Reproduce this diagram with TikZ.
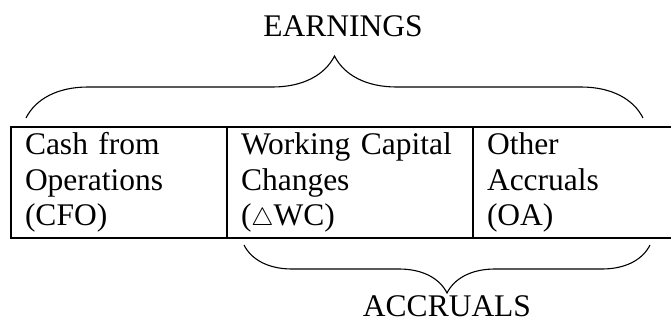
\documentclass[tikz,border=0pt]{standalone}
\usepackage{fontspec}
\setmainfont{Liberation Serif}
\usetikzlibrary{positioning,decorations.pathreplacing}

\begin{document}
\begin{tikzpicture}[x=1pt,y=-1pt]
  \tikzstyle{cellule}=[draw, line width=1.4pt, rectangle, anchor=north west, outer sep=0pt,
    inner xsep=14pt, inner ysep=0pt, minimum height=111pt, align=left,
    font=\fontsize{31.5}{35.5}\selectfont];
  \tikzstyle{titre}=[anchor=base, inner sep=0pt, font=\fontsize{31.5}{36}\selectfont];
  \tikzstyle{accolade}=[line width=1.1pt, decorate, decoration={brace, amplitude=#1}];

  \useasboundingbox (0,0) rectangle (671,324);

  \node[cellule, text width=188pt] (cfo) at (11,127) {Cash from\\Operations\\(CFO)};
  \node[cellule, text width=218pt, right=0pt of cfo] (wc) {Working Capital\\Changes\\($\triangle$WC)};
  \node[cellule, text width=190pt, right=0pt of wc] (oa) {Other\\Accruals\\(OA)};

  \coordinate (E1) at (26,118);
  \coordinate (E2) at (643,118);
  \coordinate (A1) at (650,245);
  \coordinate (A2) at (244,245);

  \draw[accolade=62pt] (E1) -- (E2);
  \draw[accolade=48pt] (A1) -- (A2);

  \node[titre] (earnings) at (343,36) {EARNINGS};
  \node[titre] (accruals) at (447,316) {ACCRUALS};
\end{tikzpicture}
\end{document}
